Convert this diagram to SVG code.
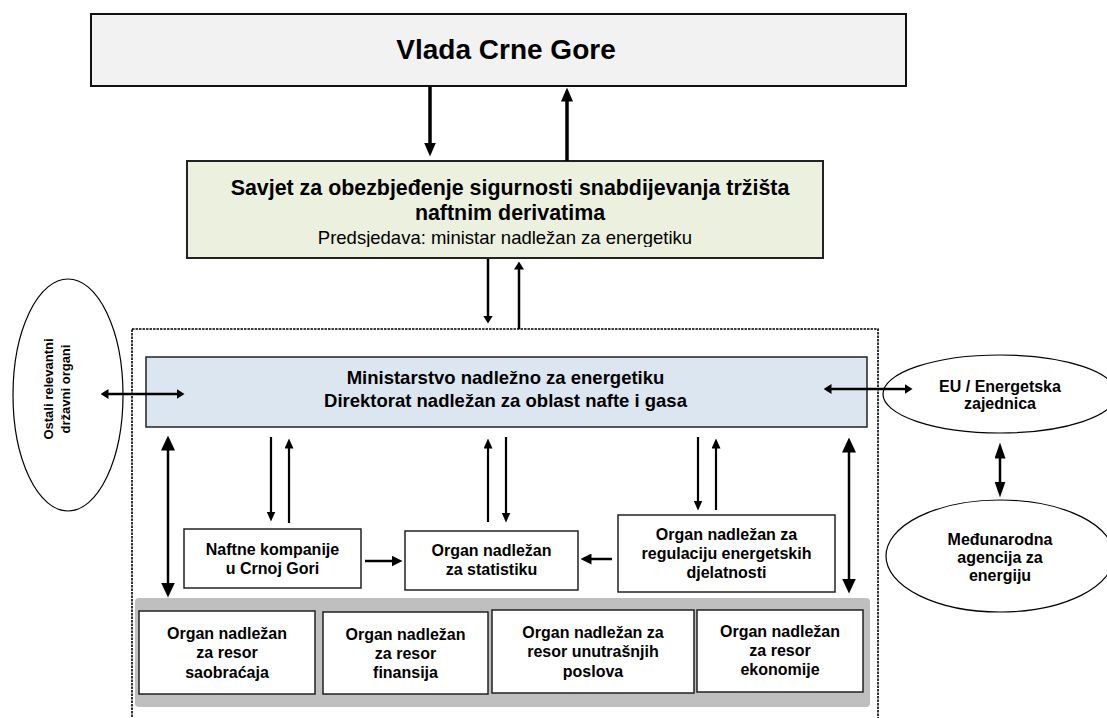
<svg xmlns="http://www.w3.org/2000/svg" width="1107" height="718" viewBox="0 0 1107 718">
<style>
text{font-family:"Liberation Sans",Arial,sans-serif;fill:#000;text-anchor:middle}
.b{font-weight:bold}
.f16{font-size:16px}
.box{fill:#fff;stroke:#222;stroke-width:1.5}
.ell{fill:#fff;stroke:#000;stroke-width:1.2}
.ln{stroke:#000;fill:none}
</style>
<defs>
<marker id="mBig" markerUnits="userSpaceOnUse" viewBox="0 0 14 12" markerWidth="14" markerHeight="12" refX="0.5" refY="6" orient="auto-start-reverse"><path d="M0,0 L14,6 L0,12 z" fill="#000"/></marker>
<marker id="mMed" markerUnits="userSpaceOnUse" viewBox="0 0 8 10" markerWidth="8" markerHeight="10" refX="0.5" refY="5" orient="auto-start-reverse"><path d="M0,0 L8,5 L0,10 z" fill="#000"/></marker>
<marker id="mIn" markerUnits="userSpaceOnUse" viewBox="0 0 10 9" markerWidth="10" markerHeight="9" refX="0.5" refY="4.5" orient="auto-start-reverse"><path d="M0,0 L10,4.5 L0,9 z" fill="#000"/></marker>
<marker id="mLong" markerUnits="userSpaceOnUse" viewBox="0 0 15 14" markerWidth="15" markerHeight="14" refX="0.5" refY="7" orient="auto-start-reverse"><path d="M0,0 L15,7 L0,14 z" fill="#000"/></marker>
<marker id="mH" markerUnits="userSpaceOnUse" viewBox="0 0 8 10" markerWidth="8" markerHeight="10" refX="0.5" refY="5" orient="auto-start-reverse"><path d="M0,0 L8,5 L0,10 z" fill="#000"/></marker>
<marker id="mEI" markerUnits="userSpaceOnUse" viewBox="0 0 16 11" markerWidth="16" markerHeight="11" refX="0.5" refY="5.5" orient="auto-start-reverse"><path d="M0,0 L16,5.5 L0,11 z" fill="#000"/></marker>
<marker id="mN" markerUnits="userSpaceOnUse" viewBox="0 0 11 11" markerWidth="11" markerHeight="11" refX="0.5" refY="5.5" orient="auto-start-reverse"><path d="M0,0 L11,5.5 L0,11 z" fill="#000"/></marker>
<clipPath id="clipPred"><rect x="190" y="225" width="630" height="22"/></clipPath>
</defs>

<g id="container">
<rect x="132" y="329" width="746" height="400" fill="none" stroke="#000" stroke-width="1.6" stroke-dasharray="2.5 1"/>
</g>

<g id="vlada">
<rect x="91" y="14" width="815" height="72" fill="#f2f2f2" stroke="#111" stroke-width="2"/>
<text class="b" x="506" y="59" font-size="28">Vlada Crne Gore</text>
</g>

<g id="savjet">
<rect x="187" y="161" width="636" height="97" fill="#ebf1de" stroke="#222" stroke-width="2"/>
<text class="b" x="510" y="195" font-size="21.4">Savjet za obezbjeđenje sigurnosti snabdijevanja tržišta</text>
<text class="b" x="510" y="220" font-size="21.4">naftnim derivatima</text>
<text x="505" y="244" font-size="18.5" clip-path="url(#clipPred)">Predsjedava: ministar nadležan za energetiku</text>
</g>

<g id="ministarstvo">
<rect x="146" y="357" width="721" height="70" fill="#dce6f1" stroke="#222" stroke-width="1.5"/>
<text class="b" x="505.5" y="384" font-size="18.5">Ministarstvo nadležno za energetiku</text>
<text class="b" x="505.5" y="407" font-size="18.5">Direktorat nadležan za oblast nafte i gasa</text>
</g>

<g id="ostali">
<ellipse class="ell" cx="68" cy="395" rx="55" ry="116"/>
<text class="b" font-size="13" transform="translate(53,389) rotate(-90)">Ostali relevantni</text>
<text class="b" font-size="13" transform="translate(70,389) rotate(-90)">državni organi</text>
</g>

<g id="eu">
<ellipse class="ell" cx="1000" cy="394" rx="117" ry="39"/>
<text class="b f16" x="1000" y="392">EU / Energetska</text>
<text class="b f16" x="1000" y="409">zajednica</text>
</g>

<g id="iea">
<ellipse class="ell" cx="1000" cy="556" rx="114" ry="56"/>
<text class="b f16" x="1000" y="545">Međunarodna</text>
<text class="b f16" x="1000" y="563">agencija za</text>
<text class="b f16" x="1000" y="581">energiju</text>
</g>

<g id="naftne">
<rect class="box" x="184" y="529" width="177" height="59"/>
<text class="b f16" x="272.5" y="555">Naftne kompanije</text>
<text class="b f16" x="272.5" y="574">u Crnoj Gori</text>
</g>

<g id="statistika">
<rect class="box" x="405" y="531" width="173" height="59"/>
<text class="b f16" x="491.5" y="556">Organ nadležan</text>
<text class="b f16" x="491.5" y="575">za statistiku</text>
</g>

<g id="regulacija">
<rect class="box" x="618" y="515" width="217" height="77"/>
<text class="b f16" x="726.5" y="540">Organ nadležan za</text>
<text class="b f16" x="726.5" y="559">regulaciju energetskih</text>
<text class="b f16" x="726.5" y="578">djelatnosti</text>
</g>

<g id="resori">
<rect x="135" y="598" width="735" height="109" rx="4" fill="#bfbfbf"/>
</g>

<g id="saobracaj">
<rect class="box" x="139" y="611" width="176" height="83"/>
<text class="b f16" x="227" y="639">Organ nadležan</text>
<text class="b f16" x="227" y="658">za resor</text>
<text class="b f16" x="227" y="678">saobraćaja</text>
</g>

<g id="finansije">
<rect class="box" x="323" y="612" width="165" height="82"/>
<text class="b f16" x="405.5" y="640">Organ nadležan</text>
<text class="b f16" x="405.5" y="659">za resor</text>
<text class="b f16" x="405.5" y="678">finansija</text>
</g>

<g id="unutrasnji">
<rect class="box" x="492" y="610" width="202" height="83"/>
<text class="b f16" x="593" y="638">Organ nadležan za</text>
<text class="b f16" x="593" y="657">resor unutrašnjih</text>
<text class="b f16" x="593" y="677">poslova</text>
</g>

<g id="ekonomija">
<rect class="box" x="697" y="610" width="166" height="82"/>
<text class="b f16" x="780" y="637">Organ nadležan</text>
<text class="b f16" x="780" y="656">za resor</text>
<text class="b f16" x="780" y="675">ekonomije</text>
</g>

<g id="connectors">
<line class="ln" x1="430" y1="87" x2="430" y2="143" stroke-width="3.5" marker-end="url(#mBig)"/>
<line class="ln" x1="567" y1="161" x2="567" y2="101" stroke-width="3.5" marker-end="url(#mBig)"/>
<line class="ln" x1="488" y1="259" x2="488" y2="316" stroke-width="2.5" marker-end="url(#mMed)"/>
<line class="ln" x1="519" y1="329" x2="519" y2="269" stroke-width="2.5" marker-end="url(#mMed)"/>
<line class="ln" x1="108" y1="394" x2="177" y2="394" stroke-width="2.5" marker-start="url(#mH)" marker-end="url(#mH)"/>
<line class="ln" x1="831" y1="389" x2="905" y2="389" stroke-width="2.5" marker-start="url(#mH)" marker-end="url(#mH)"/>
<line class="ln" x1="168" y1="450" x2="168" y2="583" stroke-width="2.5" marker-start="url(#mLong)" marker-end="url(#mLong)"/>
<line class="ln" x1="849" y1="452" x2="849" y2="579" stroke-width="2.5" marker-start="url(#mLong)" marker-end="url(#mLong)"/>
<line class="ln" x1="271" y1="437" x2="271" y2="512" stroke-width="2.2" marker-end="url(#mIn)"/>
<line class="ln" x1="289" y1="523" x2="289" y2="448" stroke-width="2.2" marker-end="url(#mIn)"/>
<line class="ln" x1="488" y1="522" x2="488" y2="448" stroke-width="2.2" marker-end="url(#mIn)"/>
<line class="ln" x1="506" y1="437" x2="506" y2="513" stroke-width="2.2" marker-end="url(#mIn)"/>
<line class="ln" x1="698" y1="437" x2="698" y2="501" stroke-width="2.2" marker-end="url(#mIn)"/>
<line class="ln" x1="716" y1="510" x2="716" y2="448" stroke-width="2.2" marker-end="url(#mIn)"/>
<line class="ln" x1="365" y1="561" x2="392" y2="561" stroke-width="2.5" marker-end="url(#mN)"/>
<line class="ln" x1="612" y1="559" x2="591" y2="559" stroke-width="2.5" marker-end="url(#mN)"/>
<line class="ln" x1="1000" y1="458" x2="1000" y2="482" stroke-width="2.5" marker-start="url(#mEI)" marker-end="url(#mEI)"/>
</g>
</svg>
